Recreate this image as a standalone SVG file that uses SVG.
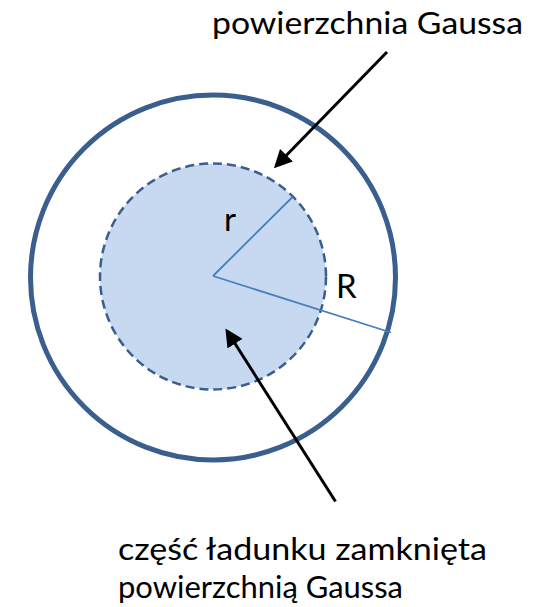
<svg xmlns="http://www.w3.org/2000/svg" width="542" height="607" viewBox="0 0 542 607">
<style>
text{font-family:Lato,"Open Sans","Liberation Sans",sans-serif;fill:#000}
.lbl{font-size:33px}
.big{font-size:31px}
.arrow{stroke:#000;stroke-width:3;fill:none}
.rad{stroke:#4A7EBB;stroke-width:1.8;fill:none}
</style>
<defs>
<marker id="ah" markerWidth="6" markerHeight="6" refX="5" refY="3" orient="auto" markerUnits="strokeWidth" viewBox="0 0 6 6">
<path d="M0,0 L6,3 L0,6 Z" fill="#000"/>
</marker>
</defs>
<g id="outer-sphere">
<circle cx="213" cy="277.5" r="182.5" fill="#fff" stroke="#3A5F8E" stroke-width="5"/>
</g>
<g id="gauss-surface">
<circle cx="213" cy="276.5" r="113" fill="#C6D9F1" stroke="#3A5F8E" stroke-width="2.5" stroke-dasharray="9,5"/>
</g>
<g id="radii">
<line class="rad" x1="213" y1="276" x2="292.5" y2="197"/>
<line class="rad" x1="213" y1="276" x2="391" y2="332.5"/>
<text class="lbl" x="224" y="231">r</text>
<text class="lbl" x="336" y="298">R</text>
</g>
<g id="connectors">
<line class="arrow" x1="387" y1="52" x2="276" y2="166" marker-end="url(#ah)"/>
<line class="arrow" x1="335.5" y1="501.5" x2="227" y2="331" marker-end="url(#ah)"/>
</g>
<g id="label-top">
<text class="big" x="212" y="34" textLength="311" lengthAdjust="spacingAndGlyphs">powierzchnia Gaussa</text>
</g>
<g id="label-bottom">
<text class="big" x="118" y="560" textLength="369" lengthAdjust="spacingAndGlyphs">część ładunku zamknięta</text>
<text class="big" x="118" y="598" textLength="285" lengthAdjust="spacingAndGlyphs">powierzchnią Gaussa</text>
</g>
</svg>
